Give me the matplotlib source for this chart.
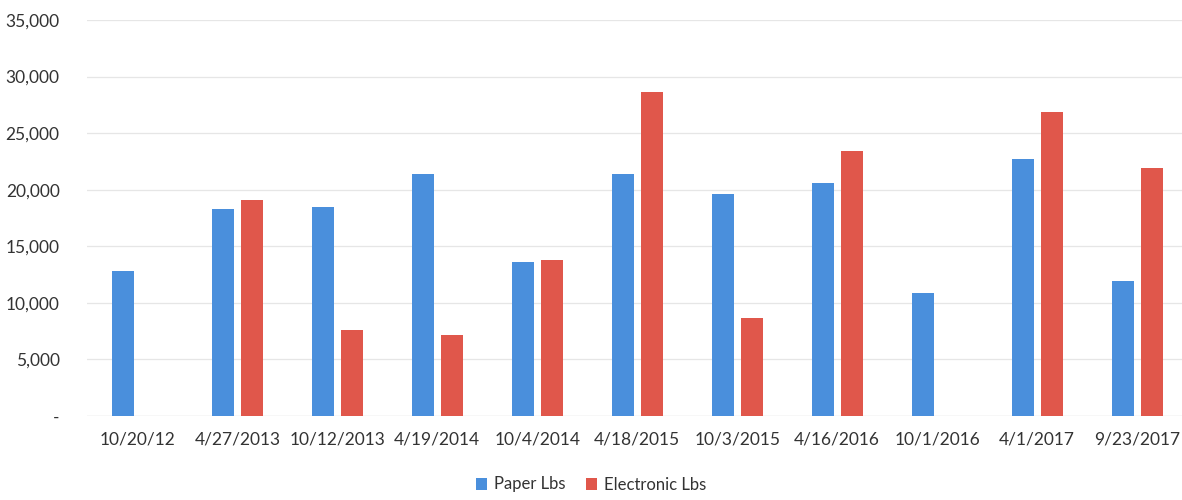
import numpy as np
import matplotlib.pyplot as plt
from matplotlib.ticker import FuncFormatter

dates = ["10/20/12", "4/27/2013", "10/12/2013", "4/19/2014", "10/4/2014", "4/18/2015",
         "10/3/2015", "4/16/2016", "10/1/2016", "4/1/2017", "9/23/2017"]
paper_lbs = [12800, 18300, 18500, 21400, 13600, 21400, 19600, 20600, 10900, 22700, 11900]
electronic_lbs = [0, 19100, 7600, 7200, 13800, 28600, 8700, 23400, 0, 26900, 21900]

plt.rcParams["font.family"] = ["Lato", "DejaVu Sans"]

fig = plt.figure(figsize=(11.82, 5.0), dpi=100)
ax = fig.add_axes([0.074, 0.168, 0.926, 0.792])

x = np.arange(len(dates))
w = 0.22
ax.bar(x - 0.145, paper_lbs, w, color="#4a8fdc", label="Paper Lbs", zorder=2)
ax.bar(x + 0.145, electronic_lbs, w, color="#e0574b", label="Electronic Lbs", zorder=2)

ax.set_ylim(0, 35000)
ax.set_yticks(range(0, 35001, 5000))
ax.yaxis.set_major_formatter(FuncFormatter(lambda v, p: "-" if v == 0 else f"{int(v):,}"))
ax.set_xlim(-0.5, 10.45)
ax.set_xticks(x)
ax.set_xticklabels(dates)

ax.grid(axis="y", color="#e6e6e6", linewidth=0.9, zorder=0)
for s in ax.spines.values():
    s.set_visible(False)
ax.axhline(0, color="#d9d9d9", linewidth=0.9, zorder=1)
ax.tick_params(axis="both", length=0, labelsize=12.5, colors="#333333")
ax.tick_params(axis="x", pad=11)
ax.tick_params(axis="y", pad=20)

fig.legend(loc="lower center", bbox_to_anchor=(0.5, -0.015), ncol=2, frameon=False,
           fontsize=12, handlelength=0.7, handleheight=0.7, handletextpad=0.4,
           columnspacing=1.2, labelcolor="#333333")

fig.savefig("out.png")
